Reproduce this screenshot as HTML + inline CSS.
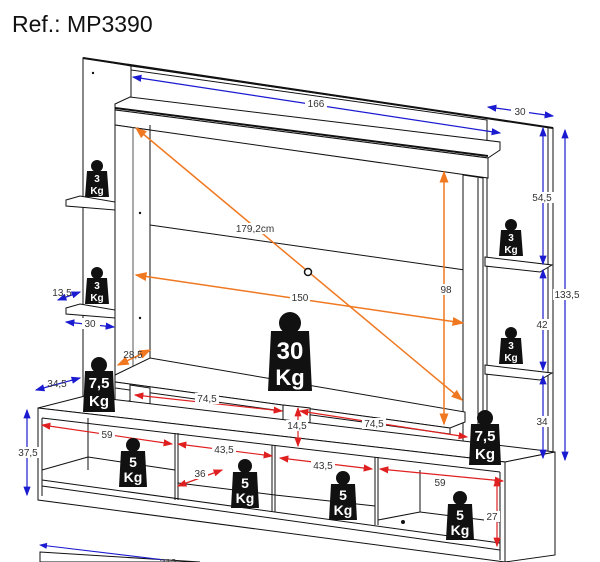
<!DOCTYPE html>
<html><head><meta charset="utf-8"><style>
html,body{margin:0;padding:0;background:#fff;width:600px;height:562px;overflow:hidden}
svg{display:block}
text{font-family:"Liberation Sans",sans-serif}
.d{font-size:10px;fill:#333;text-anchor:middle}
.k{fill:#fff;font-weight:bold;text-anchor:middle}
.l{stroke:#111;stroke-width:1;fill:#fff}
</style></head><body>
<svg width="600" height="562" viewBox="0 0 600 562" xmlns="http://www.w3.org/2000/svg">
<defs>
<marker id="ab" markerWidth="8" markerHeight="8" refX="7" refY="4" orient="auto-start-reverse"><path d="M0,1 L8,4 L0,7z" fill="#1a1ad0"/></marker>
<marker id="ao" markerWidth="8" markerHeight="8" refX="7" refY="4" orient="auto-start-reverse"><path d="M0,1 L8,4 L0,7z" fill="#f07820"/></marker>
<marker id="ar" markerWidth="8" markerHeight="8" refX="7" refY="4" orient="auto-start-reverse"><path d="M0,1 L8,4 L0,7z" fill="#e02020"/></marker>
</defs>
<text x="12" y="32" font-size="23" fill="#111">Ref.: MP3390</text>

<!-- back left panel -->
<polygon class="l" points="83,58 131,66 131,400 83,400"/>
<circle cx="93" cy="73" r="1.2" fill="#111"/>
<!-- back top strip -->
<polygon class="l" points="131,66 553,128 553,456 487,448 487,120 131,70"/>
<line x1="83" y1="58" x2="553" y2="128" stroke="#111" stroke-width="2"/>
<line x1="548" y1="128" x2="548" y2="456" stroke="#111"/>
<!-- header -->
<polygon class="l" points="115,104 130,97 500,142 500,150 488,158 115,110"/>
<polygon class="l" points="115,110 488,158 488,178 115,125"/>
<line x1="115" y1="108" x2="488" y2="156" stroke="#111" stroke-width="2"/>
<!-- back inner panel -->
<line x1="150" y1="225" x2="465" y2="270" stroke="#111"/>
<line x1="150" y1="125" x2="150" y2="360" stroke="#111"/>
<!-- left post -->
<polygon class="l" points="115,125 150,130 150,395 115,405"/>
<line x1="133" y1="127" x2="133" y2="400" stroke="#555"/>
<circle cx="140" cy="213" r="1.2" fill="#111"/><circle cx="140" cy="318" r="1.2" fill="#111"/>
<!-- right post -->
<polygon class="l" points="463,175 483,178 483,468 463,465"/>
<line x1="478" y1="178" x2="478" y2="468" stroke="#111"/>
<!-- left shelves -->
<polygon class="l" points="66,200 80,196 115,202 115,210 66,206"/>
<polygon class="l" points="66,308 80,304 115,310 115,318 66,314"/>
<!-- right shelves -->
<polygon class="l" points="485,257 552,265 540,272 485,266"/>
<polygon class="l" points="485,365 552,373 540,380 485,374"/>
<!-- TV base shelf -->
<polygon class="l" points="115,375 150,358 465,412 465,422 450,428 115,382"/>
<polygon class="l" points="115,382 450,428 450,434 115,388"/>
<!-- center block -->
<polygon class="l" points="283,405 310,408 310,438 283,445"/>
<polygon class="l" points="130,385 150,388 150,405 130,405"/>

<!-- lower cabinet -->
<polygon class="l" points="38,408 85,396 555,452 505,462"/>
<polygon class="l" points="505,462 555,452 555,555 505,562"/>
<polygon class="l" points="38,408 505,462 505,562 38,500"/>
<line x1="42" y1="418" x2="500" y2="472" stroke="#111"/>
<line x1="42" y1="418" x2="42" y2="496" stroke="#111"/>
<line x1="500" y1="472" x2="500" y2="560" stroke="#111"/>
<line x1="42" y1="480" x2="500" y2="543" stroke="#111"/>
<line x1="42" y1="486" x2="500" y2="550" stroke="#111"/>
<line x1="175" y1="433" x2="175" y2="500" stroke="#111"/><line x1="178" y1="433" x2="178" y2="500" stroke="#111"/>
<line x1="272" y1="445" x2="272" y2="512" stroke="#111"/><line x1="275" y1="445" x2="275" y2="512" stroke="#111"/>
<line x1="375" y1="457" x2="375" y2="525" stroke="#111"/><line x1="378" y1="457" x2="378" y2="525" stroke="#111"/>
<line x1="88" y1="418" x2="88" y2="470" stroke="#111"/>
<line x1="42" y1="470" x2="88" y2="457" stroke="#111"/>
<line x1="88" y1="457" x2="175" y2="470" stroke="#111"/>
<line x1="178" y1="483" x2="275" y2="495" stroke="#111"/>
<line x1="275" y1="495" x2="375" y2="506" stroke="#111"/>
<line x1="420" y1="470" x2="420" y2="512" stroke="#111"/>
<line x1="378" y1="520" x2="420" y2="512" stroke="#111"/>
<line x1="420" y1="512" x2="500" y2="522" stroke="#111"/>
<circle cx="403" cy="522" r="2" fill="#111"/>
<!-- bottom partial piece -->
<polygon class="l" points="40,552 200,562 40,562"/>
<line x1="40" y1="545" x2="165" y2="560" stroke="#1a1ad0" marker-start="url(#ab)"/>
<text class="d" x="168" y="566">212</text>

<!-- blue dims -->
<g stroke="#1a1ad0" stroke-width="1.2" fill="none">
<line x1="133" y1="77" x2="500" y2="133" marker-start="url(#ab)" marker-end="url(#ab)"/>
<line x1="488" y1="107" x2="553" y2="116" marker-start="url(#ab)" marker-end="url(#ab)"/>
<line x1="543" y1="128" x2="543" y2="264" marker-start="url(#ab)" marker-end="url(#ab)"/>
<line x1="543" y1="270" x2="543" y2="370" marker-start="url(#ab)" marker-end="url(#ab)"/>
<line x1="543" y1="376" x2="543" y2="458" marker-start="url(#ab)" marker-end="url(#ab)"/>
<line x1="565" y1="130" x2="565" y2="460" marker-start="url(#ab)" marker-end="url(#ab)"/>
<line x1="58" y1="300" x2="80" y2="292" marker-start="url(#ab)" marker-end="url(#ab)"/>
<line x1="66" y1="322" x2="114" y2="327" marker-start="url(#ab)" marker-end="url(#ab)"/>
<line x1="36" y1="390" x2="80" y2="378" marker-start="url(#ab)" marker-end="url(#ab)"/>
<line x1="27" y1="410" x2="27" y2="495" marker-start="url(#ab)" marker-end="url(#ab)"/>
</g>
<!-- orange -->
<g stroke="#f07820" stroke-width="1.5" fill="none">
<line x1="136" y1="128" x2="462" y2="400" marker-start="url(#ao)" marker-end="url(#ao)"/>
<line x1="136" y1="275" x2="463" y2="323" marker-start="url(#ao)" marker-end="url(#ao)"/>
<line x1="444" y1="172" x2="444" y2="424" marker-start="url(#ao)" marker-end="url(#ao)"/>
<line x1="118" y1="365" x2="150" y2="350" marker-start="url(#ao)" marker-end="url(#ao)"/>
</g>
<circle cx="308" cy="272" r="3.5" fill="#fff" stroke="#111" stroke-width="1.5"/>
<!-- red -->
<g stroke="#e02020" stroke-width="1.2" fill="none">
<line x1="135" y1="395" x2="282" y2="411" marker-start="url(#ar)" marker-end="url(#ar)"/>
<line x1="300" y1="411" x2="467" y2="437" marker-start="url(#ar)" marker-end="url(#ar)"/>
<line x1="298" y1="408" x2="298" y2="446" marker-start="url(#ar)" marker-end="url(#ar)"/>
<line x1="42" y1="425" x2="172" y2="444" marker-start="url(#ar)" marker-end="url(#ar)"/>
<line x1="178" y1="444" x2="272" y2="456" marker-start="url(#ar)" marker-end="url(#ar)"/>
<line x1="178" y1="486" x2="222" y2="470" marker-start="url(#ar)" marker-end="url(#ar)"/>
<line x1="280" y1="458" x2="372" y2="469" marker-start="url(#ar)" marker-end="url(#ar)"/>
<line x1="380" y1="469" x2="503" y2="481" marker-start="url(#ar)" marker-end="url(#ar)"/>
<line x1="497" y1="478" x2="497" y2="546" marker-start="url(#ar)" marker-end="url(#ar)"/>
</g>
<!-- labels -->
<g>
<rect x="305" y="98" width="22" height="11" fill="#fff"/><text class="d" x="316" y="107">166</text>
<rect x="511" y="106" width="18" height="11" fill="#fff"/><text class="d" x="520" y="115">30</text>
<rect x="530" y="192" width="24" height="11" fill="#fff"/><text class="d" x="542" y="201">54,5</text>
<rect x="533" y="319" width="18" height="11" fill="#fff"/><text class="d" x="542" y="328">42</text>
<rect x="533" y="416" width="18" height="11" fill="#fff"/><text class="d" x="542" y="425">34</text>
<rect x="553" y="289" width="28" height="11" fill="#fff"/><text class="d" x="567" y="298">133,5</text>
<text class="d" x="62" y="296">13,5</text>
<rect x="82" y="318" width="18" height="11" fill="#fff"/><text class="d" x="90" y="327">30</text>
<text class="d" x="57" y="387">34,5</text>
<rect x="16" y="447" width="24" height="11" fill="#fff"/><text class="d" x="28" y="456">37,5</text>
<rect x="236" y="223" width="38" height="11" fill="#fff"/><text class="d" x="255" y="232">179,2cm</text>
<rect x="290" y="292" width="20" height="11" fill="#fff"/><text class="d" x="300" y="301">150</text>
<rect x="438" y="284" width="16" height="11" fill="#fff"/><text class="d" x="446" y="293">98</text>
<text class="d" x="133" y="358">28,5</text>
<rect x="195" y="393" width="24" height="11" fill="#fff"/><text class="d" x="207" y="402">74,5</text>
<rect x="362" y="418" width="24" height="11" fill="#fff"/><text class="d" x="374" y="427">74,5</text>
<rect x="286" y="420" width="22" height="11" fill="#fff"/><text class="d" x="297" y="429">14,5</text>
<rect x="99" y="429" width="16" height="11" fill="#fff"/><text class="d" x="107" y="438">59</text>
<rect x="212" y="444" width="24" height="11" fill="#fff"/><text class="d" x="224" y="453">43,5</text>
<rect x="192" y="468" width="16" height="11" fill="#fff"/><text class="d" x="200" y="477">36</text>
<rect x="311" y="460" width="24" height="11" fill="#fff"/><text class="d" x="323" y="469">43,5</text>
<rect x="432" y="477" width="16" height="11" fill="#fff"/><text class="d" x="440" y="486">59</text>
<rect x="484" y="511" width="16" height="11" fill="#fff"/><text class="d" x="492" y="520">27</text>
</g>

<!-- weights -->
<g fill="#111">
<!-- 3Kg small: w24 h30 -->
<g transform="translate(97,183)"><circle cx="0" cy="-17" r="6"/><path d="M-10,-12 H10 L12,14 H-12 Z" rx="3"/><text class="k" x="0" y="-1" font-size="10">3</text><text class="k" x="0" y="11" font-size="10">Kg</text></g>
<g transform="translate(97,290)"><circle cx="0" cy="-17" r="6"/><path d="M-10,-12 H10 L12,14 H-12 Z"/><text class="k" x="0" y="-1" font-size="10">3</text><text class="k" x="0" y="11" font-size="10">Kg</text></g>
<g transform="translate(511,242)"><circle cx="0" cy="-17" r="6"/><path d="M-10,-12 H10 L12,14 H-12 Z"/><text class="k" x="0" y="-1" font-size="10">3</text><text class="k" x="0" y="11" font-size="10">Kg</text></g>
<g transform="translate(511,350)"><circle cx="0" cy="-17" r="6"/><path d="M-10,-12 H10 L12,14 H-12 Z"/><text class="k" x="0" y="-1" font-size="10">3</text><text class="k" x="0" y="11" font-size="10">Kg</text></g>
<!-- 7,5 -->
<g transform="translate(99,390)"><circle cx="0" cy="-25" r="8"/><path d="M-14,-19 H14 L16,22 H-16 Z"/><text class="k" x="0" y="-2" font-size="15">7,5</text><text class="k" x="0" y="16" font-size="15">Kg</text></g>
<g transform="translate(485,443)"><circle cx="0" cy="-25" r="8"/><path d="M-14,-19 H14 L16,22 H-16 Z"/><text class="k" x="0" y="-2" font-size="15">7,5</text><text class="k" x="0" y="16" font-size="15">Kg</text></g>
<!-- 30 -->
<g transform="translate(290,358)"><circle cx="0" cy="-35" r="11"/><path d="M-19,-27 H19 L22,33 H-22 Z"/><text class="k" x="0" y="1" font-size="24">30</text><text class="k" x="0" y="27" font-size="22">Kg</text></g>
<!-- 5Kg -->
<g transform="translate(133,467)"><circle cx="0" cy="-22" r="7"/><path d="M-12,-16 H12 L14,20 H-14 Z"/><text class="k" x="0" y="0" font-size="14">5</text><text class="k" x="0" y="15" font-size="14">Kg</text></g>
<g transform="translate(245,488)"><circle cx="0" cy="-22" r="7"/><path d="M-12,-16 H12 L14,20 H-14 Z"/><text class="k" x="0" y="0" font-size="14">5</text><text class="k" x="0" y="15" font-size="14">Kg</text></g>
<g transform="translate(343,500)"><circle cx="0" cy="-22" r="7"/><path d="M-12,-16 H12 L14,20 H-14 Z"/><text class="k" x="0" y="0" font-size="14">5</text><text class="k" x="0" y="15" font-size="14">Kg</text></g>
<g transform="translate(460,520)"><circle cx="0" cy="-22" r="7"/><path d="M-12,-16 H12 L14,20 H-14 Z"/><text class="k" x="0" y="0" font-size="14">5</text><text class="k" x="0" y="15" font-size="14">Kg</text></g>
</g>
</svg>
</body></html>
